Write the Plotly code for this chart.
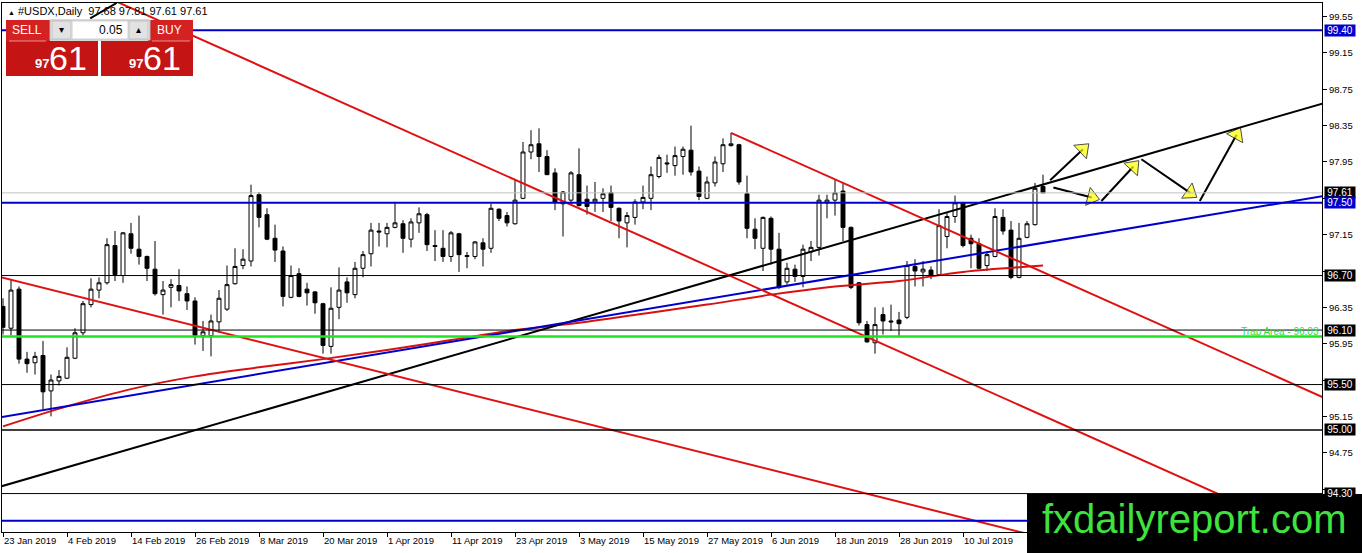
import plotly.graph_objects as go

# daily USDX bars, bar 0 = 23 Jan 2019 (weekdays only)
opens = [96.36, 96.12, 96.55, 95.78, 95.74, 95.82, 95.43, 95.54, 95.57, 95.79,
         96.07, 96.38, 96.54, 96.62, 97.03, 96.70, 97.16, 96.99, 96.91, 96.77,
         96.49, 96.57, 96.59, 96.50, 96.42, 96.04, 96.04, 96.19, 96.33, 96.61,
         96.81, 96.86, 97.59, 97.37, 97.11, 96.97, 96.46, 96.72, 96.55, 96.52,
         96.39, 95.92, 96.35, 96.63, 96.49, 96.78, 96.94, 97.19, 97.16, 97.23,
         97.27, 97.10, 97.28, 97.37, 97.03, 97.00, 96.91, 97.16, 96.92, 96.91,
         97.06, 97.00, 97.43, 97.36, 97.27, 97.55, 98.06, 98.15, 98.01, 97.83,
         97.49, 97.53, 97.81, 97.54, 97.51, 97.55, 97.61, 97.44, 97.28, 97.34,
         97.51, 97.55, 97.79, 97.94, 97.91, 98.01, 98.08, 97.85, 97.55, 97.72,
         97.93, 98.13, 98.14, 97.60, 97.21, 97.00, 97.33, 96.99, 96.63, 96.77,
         96.69, 96.96, 97.01, 97.50, 97.53, 97.63, 97.23, 96.62, 96.16, 95.96,
         96.27, 96.20, 96.21, 96.24, 96.80, 96.74, 96.76, 96.71, 97.13, 97.35,
         97.50, 97.11, 97.05, 96.81, 96.91, 97.34, 97.20, 96.68, 97.12, 97.26,
         97.68]
highs = [96.45, 96.66, 96.58, 95.86, 95.86, 95.98, 95.61, 95.66, 95.91, 96.12,
         96.42, 96.67, 96.68, 97.11, 97.19, 97.18, 97.28, 97.36, 96.92, 97.08,
         96.64, 96.66, 96.77, 96.58, 96.46, 96.20, 96.27, 96.54, 96.81, 97.00,
         96.99, 97.70, 97.62, 97.44, 97.26, 97.02, 96.81, 96.78, 96.62, 96.53,
         96.40, 96.57, 96.79, 96.68, 96.85, 96.97, 97.28, 97.28, 97.28, 97.51,
         97.31, 97.33, 97.45, 97.39, 97.20, 97.20, 97.19, 97.17, 96.96, 97.08,
         97.11, 97.49, 97.44, 97.40, 97.75, 98.17, 98.30, 98.32, 98.08, 97.88,
         97.63, 97.85, 98.10, 97.69, 97.73, 97.66, 97.69, 97.45, 97.40, 97.54,
         97.69, 97.90, 98.03, 98.03, 98.12, 98.12, 98.35, 97.90, 97.79, 98.01,
         98.21, 98.27, 98.15, 97.80, 97.33, 97.35, 97.35, 97.17, 96.84, 96.82,
         97.04, 97.08, 97.59, 97.59, 97.75, 97.72, 97.24, 96.63, 96.20, 96.35,
         96.35, 96.38, 96.30, 96.86, 96.88, 96.86, 96.80, 97.43, 97.39, 97.58,
         97.51, 97.15, 97.11, 96.97, 97.44, 97.43, 97.30, 97.28, 97.30, 97.72,
         97.81]
lows = [96.05, 96.04, 95.73, 95.63, 95.61, 95.23, 95.15, 95.49, 95.56, 95.78,
        96.04, 96.35, 96.45, 96.60, 96.64, 96.62, 96.94, 96.82, 96.64, 96.48,
        96.27, 96.35, 96.42, 96.32, 95.94, 95.87, 95.81, 96.07, 96.31, 96.60,
        96.77, 96.80, 97.23, 97.09, 96.85, 96.36, 96.45, 96.46, 96.37, 96.28,
        95.84, 95.84, 96.22, 96.40, 96.45, 96.68, 96.80, 97.02, 97.01, 97.22,
        96.95, 97.01, 97.17, 96.97, 96.86, 96.85, 96.85, 96.74, 96.78, 96.88,
        96.80, 96.95, 97.30, 97.24, 97.26, 97.54, 97.98, 97.84, 97.81, 97.42,
        97.13, 97.48, 97.46, 97.37, 97.40, 97.40, 97.30, 97.11, 97.01, 97.26,
        97.43, 97.42, 97.77, 97.83, 97.80, 97.81, 97.80, 97.53, 97.54, 97.68,
        97.84, 98.12, 97.70, 97.11, 96.99, 96.75, 96.82, 96.55, 96.60, 96.63,
        96.57, 96.86, 96.92, 97.33, 97.36, 97.08, 96.55, 96.15, 95.96, 95.84,
        96.05, 96.09, 96.02, 96.22, 96.58, 96.58, 96.66, 96.70, 97.00, 97.28,
        97.01, 96.78, 96.77, 96.75, 96.90, 97.15, 96.66, 96.67, 97.11, 97.25,
        97.61]
closes = [96.13, 96.54, 95.78, 95.73, 95.81, 95.42, 95.55, 95.59, 95.80, 96.07,
          96.39, 96.55, 96.62, 97.04, 96.71, 97.17, 97.00, 96.91, 96.78, 96.50,
          96.54, 96.60, 96.53, 96.42, 96.04, 96.08, 96.20, 96.45, 96.60, 96.80,
          96.88, 97.58, 97.34, 97.10, 96.98, 96.47, 96.70, 96.47, 96.51, 96.40,
          95.93, 96.34, 96.54, 96.51, 96.78, 96.93, 97.20, 97.18, 97.23, 97.28,
          97.11, 97.29, 97.38, 97.04, 97.02, 96.91, 97.17, 96.93, 96.91, 97.07,
          96.99, 97.44, 97.33, 97.28, 97.53, 98.06, 98.14, 98.01, 97.81, 97.51,
          97.62, 97.83, 97.47, 97.46, 97.54, 97.60, 97.45, 97.30, 97.36, 97.51,
          97.56, 97.81, 98.00, 97.93, 98.02, 98.09, 97.84, 97.57, 97.73, 97.95,
          98.14, 98.15, 97.73, 97.22, 97.11, 97.34, 96.99, 96.57, 96.78, 96.69,
          96.99, 97.01, 97.53, 97.53, 97.61, 97.23, 96.57, 96.18, 95.97, 96.16,
          96.20, 96.19, 96.17, 96.81, 96.75, 96.77, 96.70, 97.25, 97.35, 97.50,
          97.03, 97.05, 96.78, 96.93, 97.35, 97.19, 96.68, 97.11, 97.27, 97.66,
          97.61]
bars = list(range(len(closes)))

date_ticks = [0, 8, 16, 24, 32, 40, 48, 56, 64, 72, 80, 88, 96, 104, 112, 120]
date_labels = ["23 Jan 2019", "4 Feb 2019", "14 Feb 2019", "26 Feb 2019", "8 Mar 2019",
               "20 Mar 2019", "1 Apr 2019", "11 Apr 2019", "23 Apr 2019", "3 May 2019",
               "15 May 2019", "27 May 2019", "6 Jun 2019", "18 Jun 2019", "28 Jun 2019",
               "10 Jul 2019"]
price_ticks = [94.35, 94.75, 95.15, 95.55, 95.95, 96.35, 96.75, 97.15, 97.55, 97.95,
               98.35, 98.75, 99.15, 99.55]
# these tick labels sit under the price tags on the right
hidden_ticks = [94.35, 95.55, 96.75, 97.55]

# moving average
ma_bars = [0, 8, 16, 24, 32, 40, 48, 56, 64, 72, 80, 88, 96, 104, 112, 120, 130]
ma_values = [95.04, 95.26, 95.45, 95.59, 95.69, 95.78, 95.88, 95.99, 96.10, 96.18,
             96.28, 96.38, 96.49, 96.58, 96.64, 96.74, 96.81]

# horizontal levels
levels = [99.40, 97.61, 97.50, 96.70, 96.10, 96.03, 95.50, 95.00, 94.30, 94.00]
tag_levels = [99.40, 97.61, 97.50, 96.70, 96.10, 95.50, 95.00, 94.30]
trap_level = 96.03

# trend lines (bar index, price)
black_trend_x = [-1, 166]
black_trend_y = [94.36, 98.62]
blue_trend_x = [-1, 166]
blue_trend_y = [95.13, 97.59]
red_fan_x = [-2, 132]
red_fan_y = [96.72, 93.77]
channel_lo_x = [10, 165]
channel_lo_y = [99.88, 93.78]
channel_hi_x = [91, 165]
channel_hi_y = [98.27, 95.36]
stub_x = [10.9, 14.2]
stub_y = [99.53, 99.70]

# yellow arrows: start -> head
arrow_x = [[130.9, 135.0], [131.3, 136.1], [137.3, 141.3], [142.3, 148.4], [149.6, 154.2]]
arrow_y = [[97.75, 98.09], [97.67, 97.56], [97.52, 97.90], [97.98, 97.61], [97.52, 98.25]]

BLUE = "#0000cd"
RED = "#e01010"
GREEN = "#1ee61e"
FONT = "Liberation Sans, Arial, sans-serif"

W, H = 1362, 553
L, R, T, B = 2, 40, 3, 21


def px(x):
    return (x - L) / (W - L - R)


def py(y):
    return (H - B - y) / (H - T - B)


fig = go.Figure()

fig.add_trace(go.Candlestick(
    x=bars, open=opens, high=highs, low=lows, close=closes,
    increasing=dict(fillcolor="white", line=dict(color="black", width=1)),
    decreasing=dict(fillcolor="black", line=dict(color="black", width=1)),
    whiskerwidth=0, hoverinfo="skip", showlegend=False))

fig.add_trace(go.Scatter(x=ma_bars, y=ma_values, mode="lines",
                         line=dict(color="#d81010", width=2, shape="spline"),
                         hoverinfo="skip", showlegend=False))

for xs, ys, col in [(black_trend_x, black_trend_y, "black"),
                    (blue_trend_x, blue_trend_y, BLUE),
                    (red_fan_x, red_fan_y, RED),
                    (channel_lo_x, channel_lo_y, RED),
                    (channel_hi_x, channel_hi_y, RED),
                    (stub_x, stub_y, "black")]:
    fig.add_trace(go.Scatter(x=xs, y=ys, mode="lines", line=dict(color=col, width=2),
                             hoverinfo="skip", showlegend=False))

for xs, ys in zip(arrow_x, arrow_y):
    fig.add_trace(go.Scatter(
        x=xs, y=ys, mode="lines+markers", line=dict(color="black", width=2),
        marker=dict(symbol=["circle", "triangle-up"], size=[0, 16], color="#ffff00",
                    angleref="previous", line=dict(color="black", width=1)),
        hoverinfo="skip", showlegend=False))

level_style = [(BLUE, 2), ("#c0c0c0", 1), (BLUE, 2), ("black", 1), ("black", 1),
               (GREEN, 2.5), ("black", 1), ("black", 1.6), ("black", 1), (BLUE, 2)]
shapes = []
for lv, (col, wd) in zip(levels, level_style):
    shapes.append(dict(type="line", xref="paper", x0=0, x1=1, yref="y", y0=lv, y1=lv,
                       line=dict(color=col, width=wd), layer="above"))

annotations = []
tag_colors = [BLUE, "black", BLUE, "black", "black", "black", "black", "black"]
for lv, col in zip(tag_levels, tag_colors):
    annotations.append(dict(xref="paper", x=1, xanchor="left", xshift=2, yref="y", y=lv,
                            text=f"{lv:.2f}", showarrow=False, bgcolor=col, width=30,
                            height=11, borderpad=0, align="center",
                            font=dict(family=FONT, size=10, color="white")))

annotations.append(dict(xref="paper", x=1, xanchor="right", xshift=-1, yref="y", y=trap_level,
                        yanchor="bottom", yshift=-3, text=f"Trap Area - {trap_level:.2f}",
                        showarrow=False, font=dict(family=FONT, size=10, color="#33dd33")))

# header line
annotations.append(dict(xref="paper", yref="paper", x=px(6), y=py(11), xanchor="left",
                        yanchor="middle", showarrow=False,
                        text=f"<span style='font-size:7px'>▲</span> #USDX,Daily  "
                             f"{opens[-1]:.2f} {highs[-1]:.2f} {lows[-1]:.2f} {closes[-1]:.2f}",
                        font=dict(family=FONT, size=11, color="black")))


# one-click trading panel
def rect(x0, y0, x1, y1, fill, line=None):
    shapes.append(dict(type="rect", xref="paper", yref="paper", x0=px(x0), x1=px(x1),
                       y0=py(y1), y1=py(y0), fillcolor=fill, layer="above",
                       line=dict(color=line or fill, width=1 if line else 0)))


def label(x, y, text, size, color="white", anchor="center", bold=False):
    t = f"<b>{text}</b>" if bold else text
    annotations.append(dict(xref="paper", yref="paper", x=px(x), y=py(y), xanchor=anchor,
                            yanchor="middle", text=t, showarrow=False,
                            font=dict(family=FONT, size=size, color=color)))


rect(6, 20, 50, 41, "#d42222")
rect(148, 20, 193, 41, "#d42222")
rect(50, 20, 150, 40, "#f0f0f0", "#b0b0b0")
rect(52, 21, 71, 39, "#e2e2e2", "#c0c0c0")
rect(72, 21, 128, 39, "white", "#d0d0d0")
rect(129, 21, 148, 39, "#e2e2e2", "#c0c0c0")
rect(6, 41, 98, 76, "#c41414")
rect(101, 41, 193, 76, "#c41414")
shapes.append(dict(type="line", xref="paper", yref="paper", x0=px(9), x1=px(46),
                   y0=py(41), y1=py(41), line=dict(color="#e89090", width=1), layer="above"))
shapes.append(dict(type="line", xref="paper", yref="paper", x0=px(152), x1=px(190),
                   y0=py(41), y1=py(41), line=dict(color="#e89090", width=1), layer="above"))

label(27, 30, "SELL", 12)
label(170, 30, "BUY", 12)
label(61, 29, "▾", 10, "black")
label(138, 29, "▴", 10, "black")
label(125, 30, "0.05", 12, "black", anchor="right")
big, small = f"{closes[-1]:.2f}".split(".")
label(42, 64, big, 13, bold=True)
label(68, 58, small, 34)
label(136, 64, big, 13, bold=True)
label(162, 58, small, 34)

# watermark
shapes.append(dict(type="rect", xref="paper", yref="paper", x0=px(1027), x1=px(1362),
                   y0=py(553), y1=py(494), fillcolor="black", line=dict(width=0), layer="above"))
annotations.append(dict(xref="paper", yref="paper", x=px(1194), y=py(519), xanchor="center",
                        yanchor="middle", text="fxdailyreport.com", showarrow=False,
                        font=dict(family=FONT, size=40, color="#3fe23f")))

tick_text = ["" if t in hidden_ticks else f"{t:.2f}" for t in price_ticks]

fig.update_layout(
    width=W, height=H, margin=dict(l=L, r=R, t=T, b=B),
    paper_bgcolor="white", plot_bgcolor="white", showlegend=False,
    shapes=shapes, annotations=annotations,
    font=dict(family=FONT, size=10, color="black"),
    xaxis=dict(range=[-0.125, 164.875], rangeslider=dict(visible=False),
               tickvals=date_ticks, ticktext=date_labels, ticklabelposition="outside right",
               ticks="outside", ticklen=4, tickcolor="black", showgrid=False, zeroline=False,
               showline=True, linecolor="black", linewidth=1, mirror=True,
               tickfont=dict(family=FONT, size=9.5, color="black")),
    yaxis=dict(range=[93.877, 99.70], side="right", tickvals=price_ticks, ticktext=tick_text,
               ticks="outside", ticklen=4, tickcolor="black", showgrid=False, zeroline=False,
               showline=True, linecolor="black", linewidth=1, mirror=True,
               tickfont=dict(family=FONT, size=9.5, color="black")),
)

fig.write_html("out.html", config={"displayModeBar": False},
               post_script="document.body.style.margin='0';")
